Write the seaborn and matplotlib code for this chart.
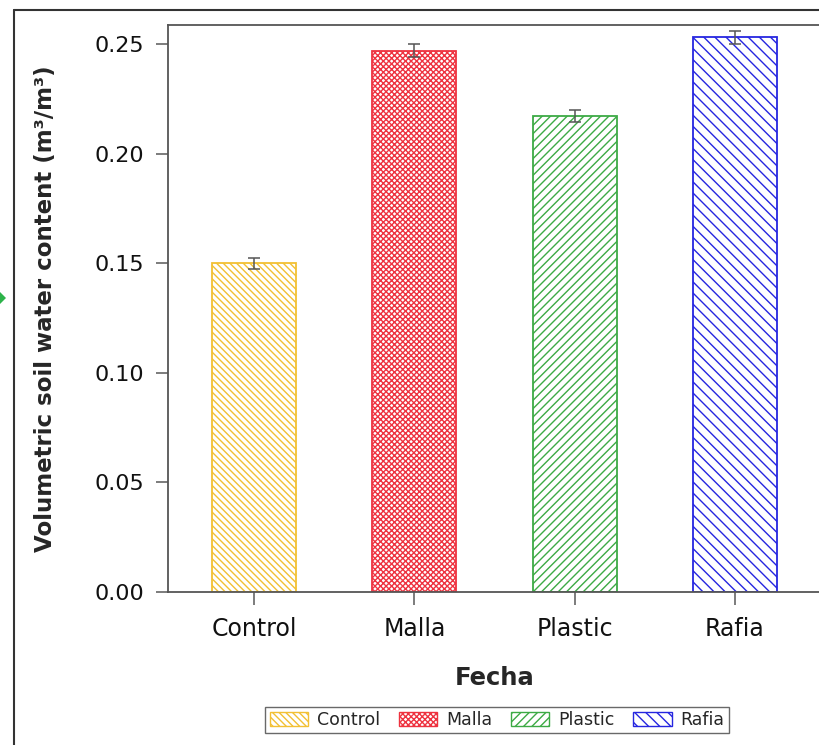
import matplotlib
matplotlib.use("Agg")
import matplotlib.pyplot as plt
from matplotlib.patches import Patch, Polygon
from matplotlib.lines import Line2D
import seaborn as sns
import pandas as pd

# Treatment means and standard errors
treatments = ["Control", "Malla", "Plastic", "Rafia"]
swc_mean = [0.150, 0.247, 0.217, 0.253]
swc_se = [0.0025, 0.0030, 0.0027, 0.0030]
y_ticks = [0.00, 0.05, 0.10, 0.15, 0.20, 0.25]

colors = ["#F2C033", "#EE3340", "#3DAA45", "#2626E0"]
hatches = ["\\" * 5, "x" * 6, "/" * 4, "\\" * 3]

sns.set_style("white")
plt.rcParams["font.family"] = ["DejaVu Sans"]
plt.rcParams["hatch.linewidth"] = 1.0

df = pd.DataFrame({"Tratamiento": treatments, "SWC": swc_mean})

fig = plt.figure(figsize=(8.2, 7.45), dpi=100)
ax = fig.add_axes([168 / 820, 153 / 745, 653 / 820, 567 / 745])

sns.barplot(data=df, x="Tratamiento", y="SWC", hue="Tratamiento",
            palette=colors, order=treatments, hue_order=treatments,
            width=0.525, legend=False, ax=ax)

for bar, col, h in zip(ax.patches, colors, hatches):
    bar.set_facecolor("white")
    bar.set_edgecolor(col)
    bar.set_hatch(h)
    bar.set_linewidth(1.3)

ax.errorbar(range(len(treatments)), swc_mean, yerr=swc_se, fmt="none",
            ecolor="#555555", elinewidth=1.1, capsize=4, capthick=1.1, zorder=5)

ax.set_xlim(-0.5375, 3.5375)
ax.set_ylim(0, 0.2587)
ax.set_yticks(y_ticks)
ax.set_yticklabels([f"{t:.2f}" for t in y_ticks])

ax.tick_params(axis="both", direction="out", length=9, width=1.2,
               color="#666666", labelcolor="#111111", left=True, bottom=True)
ax.tick_params(axis="y", labelsize=16, pad=8)
ax.tick_params(axis="x", labelsize=17, pad=9)

for side in ["left", "bottom", "top"]:
    ax.spines[side].set_color("#555555")
    ax.spines[side].set_linewidth(1.3)
ax.spines["right"].set_visible(False)

ax.set_xlabel("Fecha", fontsize=17.5, fontweight="bold", labelpad=18)
ax.set_ylabel("Volumetric soil water content (m³/m³)", fontsize=16.5,
              fontweight="bold", labelpad=27)

handles = [Patch(facecolor="white", edgecolor=c, hatch=h, label=t)
           for t, c, h in zip(treatments, colors, hatches)]
fig.legend(handles=handles, loc="center", bbox_to_anchor=(497 / 820, 1 - 720 / 745),
           ncol=4, frameon=True, fancybox=False, edgecolor="#444444",
           fontsize=12.5, handlelength=2.2, handleheight=0.8,
           columnspacing=1.1, handletextpad=0.5, borderpad=0.25, borderaxespad=0)

# Outer frame lines along the left and top edges
fig.add_artist(Line2D([14 / 820, 14 / 820], [0, 1 - 10 / 745],
                      transform=fig.transFigure, color="#333333", lw=1.5))
fig.add_artist(Line2D([14 / 820, 1], [1 - 10 / 745, 1 - 10 / 745],
                      transform=fig.transFigure, color="#333333", lw=1.5))
# Small green pointer on the left margin
fig.add_artist(Polygon([[0, 1 - 292 / 745], [6 / 820, 1 - 298 / 745], [0, 1 - 304 / 745]],
                       closed=True, transform=fig.transFigure,
                       facecolor="#2DB34A", edgecolor="none"))

fig.savefig("out.png", dpi=100)
